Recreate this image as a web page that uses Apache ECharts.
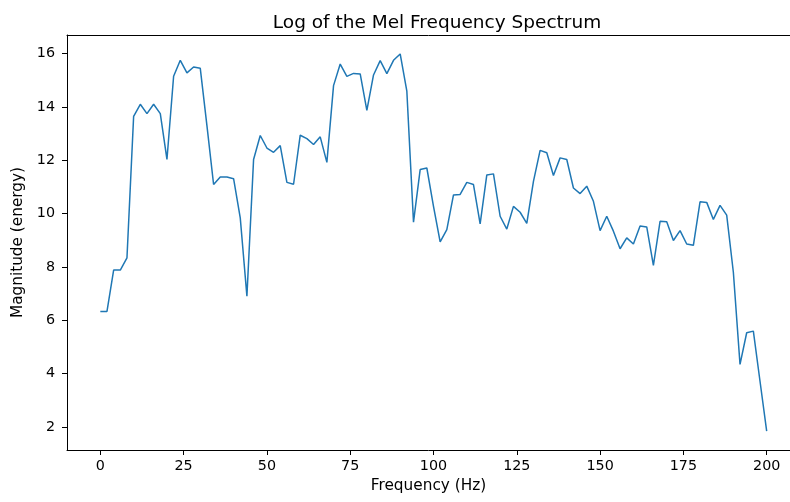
<!DOCTYPE html>
<html>
<head>
<meta charset="utf-8">
<script src="https://cdn.jsdelivr.net/npm/echarts@6/dist/echarts.min.js"></script>
<style>
  html, body { margin: 0; padding: 0; background: #fff; }
  #chart { width: 790px; height: 502px; }
</style>
</head>
<body>
<div id="chart"></div>
<script>
// frequency bins, one every 2 Hz
const freqs = [];
for (let f = 0; f <= 200; f += 2) freqs.push(f);

// log mel magnitudes
const magnitudes = [
  6.33, 6.33, 7.88, 7.88, 8.34, 13.65, 14.1, 13.75, 14.1, 13.75,
  12.03, 15.15, 15.75, 15.28, 15.5, 15.45, 13.3, 11.09, 11.37, 11.37,
  11.31, 9.84, 6.9, 12.03, 12.93, 12.46, 12.3, 12.55, 11.17, 11.1,
  12.94, 12.81, 12.59, 12.88, 11.92, 14.8, 15.61, 15.15, 15.26, 15.24,
  13.87, 15.2, 15.74, 15.25, 15.75, 15.99, 14.59, 9.68, 11.65, 11.71,
  10.27, 8.94, 9.4, 10.7, 10.72, 11.17, 11.09, 9.61, 11.45, 11.49,
  9.9, 9.42, 10.27, 10.05, 9.63, 11.21, 12.37, 12.28, 11.43, 12.09,
  12.03, 10.96, 10.75, 11.03, 10.46, 9.36, 9.9, 9.34, 8.68, 9.09,
  8.86, 9.53, 9.5, 8.06, 9.71, 9.69, 8.99, 9.36, 8.86, 8.81,
  10.44, 10.42, 9.78, 10.31, 9.94, 7.8, 4.34, 5.53, 5.59, 3.71,
  1.84
];

const xTicks = [0, 25, 50, 75, 100, 125, 150, 175, 200];
const yTicks = [2, 4, 6, 8, 10, 12, 14, 16];

const chart = echarts.init(document.getElementById('chart'), null, {renderer: 'canvas'});

const font = 'DejaVu Sans';

// the right side of the figure is cut off, so the axes run past the window edge
const option = {
  animation: false,
  title: {
    text: 'Log of the Mel Frequency Spectrum',
    left: 432,
    textAlign: 'center',
    top: 9,
    textStyle: {fontFamily: font, fontSize: 18.5, fontWeight: 'normal', color: '#000'}
  },
  grid: {
    left: 67,
    top: 35,
    right: 0,
    bottom: 52
  },
  xAxis: [
    {
      type: 'value',
      min: -10,
      max: 207,
      name: 'Frequency (Hz)',
      nameLocation: 'middle',
      nameGap: 29,
      nameTextStyle: {fontFamily: font, fontSize: 15.3, color: '#000'},
      axisLine: {show: true, onZero: false, lineStyle: {color: '#000', width: 1}},
      axisTick: {show: true, length: 5, customValues: xTicks, lineStyle: {color: '#000'}},
      axisLabel: {customValues: xTicks, margin: 9, fontFamily: font, fontSize: 14.3, color: '#000'},
      splitLine: {show: false}
    },
    {
      // top spine only
      type: 'value',
      position: 'top',
      min: -10,
      max: 207,
      axisLine: {show: true, onZero: false, lineStyle: {color: '#000', width: 1}},
      axisTick: {show: false},
      axisLabel: {show: false},
      splitLine: {show: false}
    }
  ],
  yAxis: {
    type: 'value',
    min: 1.13,
    max: 16.7,
    name: 'Magnitude (energy)',
    nameLocation: 'middle',
    nameGap: 40,
    nameTextStyle: {fontFamily: font, fontSize: 15.3, color: '#000'},
    axisLine: {show: true, onZero: false, lineStyle: {color: '#000', width: 1}},
    axisTick: {show: true, length: 5, customValues: yTicks, lineStyle: {color: '#000'}},
    axisLabel: {customValues: yTicks, margin: 12, fontFamily: font, fontSize: 14.3, color: '#000'},
    splitLine: {show: false}
  },
  series: [
    {
      type: 'line',
      xAxisIndex: 0,
      data: freqs.map((f, i) => [f, magnitudes[i]]),
      showSymbol: false,
      lineStyle: {color: '#1f77b4', width: 1.5},
      itemStyle: {color: '#1f77b4'}
    }
  ]
};

chart.setOption(option);
</script>
</body>
</html>
